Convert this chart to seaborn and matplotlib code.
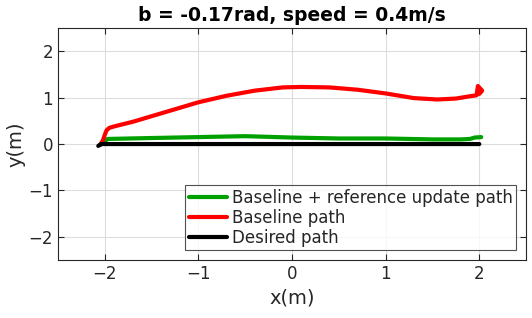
import numpy as np
import pandas as pd
import seaborn as sns
import matplotlib.pyplot as plt

# paths
red_x = [-2.05, -2.02, -2.0, -1.98, -1.95, -1.9, -1.7, -1.5, -1.2, -1.0, -0.7, -0.4, -0.1, 0.1, 0.4, 0.7,
         1.0, 1.3, 1.55, 1.75, 1.9, 1.97, 1.985, 2.03, 2.0]
red_y = [-0.02, 0.08, 0.2, 0.3, 0.35, 0.38, 0.48, 0.6, 0.78, 0.9, 1.04, 1.15, 1.22, 1.23, 1.22, 1.17,
         1.09, 0.99, 0.96, 0.98, 1.03, 1.05, 1.25, 1.15, 1.08]

green_x = [-2.05, -2.0, -1.97, -1.5, -1.0, -0.5, 0.0, 0.5, 1.0, 1.5, 1.8, 1.9, 1.95, 2.02]
green_y = [-0.02, 0.06, 0.11, 0.13, 0.15, 0.17, 0.14, 0.12, 0.12, 0.1, 0.1, 0.11, 0.14, 0.15]

black_x = [-2.07, -2.04, 2.0]
black_y = [-0.04, 0.0, 0.0]

labels = ['Baseline + reference update path', 'Baseline path', 'Desired path']
colors = ['#00a000', '#ff0000', '#000000']

df = pd.concat([
    pd.DataFrame({'x': green_x, 'y': green_y, 'path': labels[0]}),
    pd.DataFrame({'x': red_x, 'y': red_y, 'path': labels[1]}),
    pd.DataFrame({'x': black_x, 'y': black_y, 'path': labels[2]}),
])

sns.set_theme(style='whitegrid')
plt.rcParams['font.family'] = ['DejaVu Sans']

fig, ax = plt.subplots(figsize=(5.32, 3.18), dpi=100)
sns.lineplot(data=df, x='x', y='y', hue='path', palette=colors, sort=False,
             estimator=None, linewidth=3, ax=ax)

ax.set_xlim(-2.5, 2.5)
ax.set_ylim(-2.5, 2.5)
ax.set_xticks([-2, -1, 0, 1, 2])
ax.set_yticks([-2, -1, 0, 1, 2])
ax.grid(True, color='#dcdcdc', linewidth=0.8)
for s in ax.spines.values():
    s.set_color('#262626')
    s.set_linewidth(0.8)
ax.tick_params(direction='in', length=4, width=0.8, top=True, right=True,
               labelsize=12, colors='#262626', bottom=True, left=True)
ax.set_xlabel('x(m)', fontsize=14, color='#262626', labelpad=4)
ax.set_ylabel('y(m)', fontsize=14, color='#262626', labelpad=2)
ax.set_title('b = -0.17rad, speed = 0.4m/s', fontsize=13.5, fontweight='bold',
             color='black', pad=5)

leg = ax.legend(loc='lower right', fontsize=12, frameon=True, fancybox=False,
                edgecolor='#262626', handlelength=2.3, handletextpad=0.3,
                borderpad=0.2, labelspacing=0.12, borderaxespad=0.6)
leg.get_frame().set_linewidth(0.8)
for line in leg.get_lines():
    line.set_linewidth(3)

fig.subplots_adjust(left=0.109, right=0.989, top=0.912, bottom=0.182)
fig.savefig('out.png', dpi=100)
